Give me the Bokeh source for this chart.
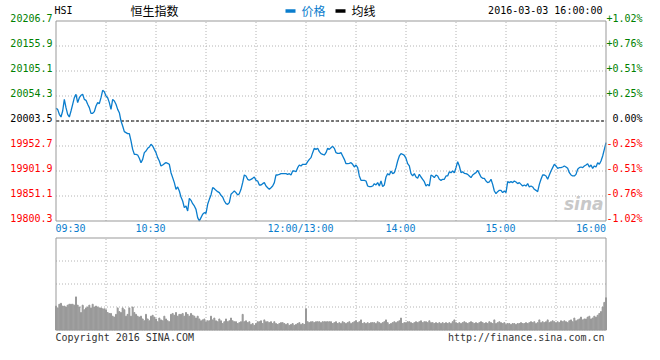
from bokeh.plotting import figure
from bokeh.models import Range1d, ColumnDataSource
from bokeh.layouts import column
from bokeh.core.properties import value
from bokeh.embed import file_html
from bokeh.resources import INLINE

# ---------------- data ----------------
base_price = 20003.5
price_ticks = [20206.7, 20155.9, 20105.1, 20054.3, 20003.5, 19952.7, 19901.9, 19851.1, 19800.3]
price_labels = ["20206.7", "20155.9", "20105.1", "20054.3", "20003.5", "19952.7", "19901.9", "19851.1", "19800.3"]
pct_labels = ["+1.02%", "+0.76%", "+0.51%", "+0.25%", "0.00%", "-0.25%", "-0.51%", "-0.76%", "-1.02%"]
tick_colors = ["#008000", "#008000", "#008000", "#008000", "#000000", "#ff0000", "#ff0000", "#ff0000", "#ff0000"]

time_tick_minutes = [0, 60, 150, 210, 270, 330]
time_tick_labels = ["09:30", "10:30", "12:00/13:00", "14:00", "15:00", "16:00"]
grid_minutes = [30, 60, 90, 120, 150, 180, 210, 240, 270, 300]
volume_max = 100
volume_grid = [25, 50, 75]

header_code = "HSI"
header_name = "恒生指数"
header_time = "2016-03-03 16:00:00"
legend_labels = ["价格", "均线"]
footer_left = "Copyright 2016 SINA.COM"
footer_right = "http://finance.sina.com.cn"

# HSI index, one value per trading minute (09:30-12:00, 13:00-16:00)
price = [
    20029.2, 20027.2, 20017.1, 20011.6, 20023.8, 20047.5, 20030.6, 20017.1, 20011.6, 20023.8,
    20037.4, 20050.9, 20057.7, 20040.8, 20050.9, 20055.7, 20057.7, 20047.5, 20045.5, 20037.4,
    20030.6, 20019.1, 20019.1, 20022.5, 20034.0, 20040.8, 20038.7, 20050.9, 20065.8, 20063.1,
    20054.3, 20050.9, 20040.8, 20027.2, 20047.5, 20044.1, 20037.4, 20027.2, 20020.4, 20003.5,
    19993.4, 19981.8, 19979.8, 19977.8, 19977.8, 19962.9, 19945.9, 19935.8, 19935.8, 19934.4,
    19927.7, 19918.8, 19925.6, 19939.2, 19942.6, 19948.0, 19950.7, 19956.1, 19952.7, 19945.9,
    19939.2, 19929.0, 19922.2, 19912.1, 19914.1, 19916.8, 19918.8, 19917.5, 19915.5, 19898.5,
    19888.4, 19878.2, 19864.7, 19869.4, 19861.3, 19849.1, 19841.0, 19827.4, 19830.8, 19820.6,
    19846.4, 19842.3, 19835.5, 19830.8, 19824.0, 19807.1, 19800.3, 19807.1, 19813.9, 19817.3,
    19815.9, 19834.2, 19844.3, 19853.2, 19868.1, 19866.0, 19862.6, 19859.9, 19857.9, 19852.5,
    19849.1, 19841.0, 19835.5, 19834.2, 19837.6, 19854.5, 19857.9, 19861.3, 19857.9, 19853.2,
    19855.9, 19864.7, 19878.2, 19893.8, 19891.8, 19885.0, 19883.0, 19885.0,
    19887.0, 19889.7, 19882.9, 19881.6, 19873.5, 19873.5, 19876.2, 19878.2, 19871.4, 19868.0,
    19864.7, 19868.0, 19871.4, 19878.2, 19893.8, 19893.8, 19895.1, 19896.5, 19896.5, 19896.5,
    19896.5, 19895.1, 19896.5, 19893.8, 19901.9, 19901.9, 19900.5, 19908.7, 19914.1, 19912.1,
    19915.5, 19915.5, 19915.5, 19920.9, 19925.6, 19929.0, 19939.2, 19948.0, 19945.9, 19948.0,
    19941.2, 19937.1, 19935.8, 19934.4, 19939.2, 19948.0, 19945.9, 19949.3, 19952.0, 19948.0,
    19939.2, 19937.8, 19937.8, 19939.2, 19932.4, 19925.6, 19916.8, 19916.8, 19917.5, 19918.8,
    19915.5, 19910.0, 19914.1, 19908.7, 19891.8, 19882.9, 19882.9, 19882.9, 19881.6, 19871.4,
    19870.1, 19870.1, 19871.4, 19876.2, 19873.5, 19878.2, 19871.4, 19881.6, 19870.1, 19873.5,
    19889.7, 19896.5, 19893.8, 19901.9, 19896.5, 19898.5, 19908.7, 19922.2, 19932.4, 19937.1,
    19935.8, 19933.7, 19927.6, 19916.8, 19912.1, 19896.5, 19891.8, 19896.5, 19889.7, 19887.0,
    19895.1, 19889.7, 19885.0, 19880.2, 19871.4, 19874.8, 19871.4, 19893.8, 19891.8, 19888.4,
    19893.8, 19891.8, 19885.0, 19882.9,
    19885.0, 19885.0, 19891.8, 19891.8, 19900.5, 19898.5, 19901.9, 19898.5, 19908.7, 19920.9,
    19912.1, 19898.5, 19900.5, 19897.2, 19896.5, 19895.1, 19891.8, 19888.4, 19893.8, 19896.5,
    19898.5, 19903.3, 19896.5, 19889.7, 19887.0, 19887.0, 19881.6, 19878.2, 19879.6, 19885.0,
    19874.8, 19861.3, 19855.9, 19859.9, 19862.6, 19862.6, 19857.9, 19861.3, 19857.9, 19880.2,
    19878.2, 19880.2, 19878.2, 19881.6, 19879.6, 19876.2, 19878.2, 19874.8, 19871.4, 19873.5,
    19871.4, 19876.2, 19869.4, 19871.4, 19869.4, 19864.7, 19862.6, 19859.9, 19874.8, 19885.0,
    19893.8, 19893.8, 19891.8, 19885.0, 19893.8, 19901.9, 19908.7, 19915.5, 19912.1, 19907.3,
    19908.7, 19908.7, 19910.0, 19912.1, 19910.0, 19907.3, 19898.5, 19893.8, 19891.8, 19891.8,
    19895.1, 19905.3, 19908.7, 19910.0, 19908.7, 19912.1, 19914.1, 19916.8, 19910.0, 19914.1,
    19907.3, 19912.1, 19910.0, 19918.8, 19915.5, 19922.2, 19932.4, 19945.9, 19959.5,
]

# traded volume per minute (relative units, panel top = 100)
volume = [
    26, 24, 28, 29, 26, 26, 25, 27, 28, 28,
    28, 27, 36, 27,
    25, 19, 27, 22, 24,
    25, 27, 24, 28, 25, 26, 25, 24, 24, 23,
    23, 22, 19, 18, 18, 15, 14, 17,
    24, 20, 19, 24, 22, 15, 17, 24, 15, 25, 19, 17,
    15, 14, 15, 12, 10, 17, 12, 10,
    15, 16, 14, 12, 9, 13, 11, 10, 15, 12, 10, 9,
    17, 18, 16, 19, 15, 17, 17, 18, 15, 19, 17, 15,
    18, 16, 15, 13, 15, 12, 10, 11, 12, 9, 10, 10,
    15, 11, 13, 10, 9, 12, 10, 7, 9, 12, 9, 10,
    13, 10, 9, 9, 7, 8, 9, 17, 9, 10, 8, 9,
    6, 7, 5, 7, 9, 9, 10, 7, 11, 9, 9, 8,
    9, 7, 9, 7, 6, 7, 8, 8, 7, 6, 7, 5,
    6, 7, 5, 6, 7, 8, 6, 7, 6, 23,
    9, 8, 9, 9, 8, 9, 9, 9, 8, 9, 9, 9, 9, 9,
    9, 7, 8, 9, 7, 8, 7, 9, 8,
    7, 8, 9, 7, 8, 9, 10, 8, 9, 11, 7, 8,
    7, 8, 7, 8, 8, 8, 7, 9, 8, 7, 8, 9,
    11, 8, 6, 7, 8, 9, 8, 9, 10, 13, 7, 8,
    8, 9, 9, 8, 7, 8, 9, 8, 9, 10, 8, 9,
    9, 8, 10, 8, 8, 7, 8, 7, 8, 7, 8, 7,
    8, 7, 8, 7, 9, 11, 8, 7, 8, 7, 8, 9,
    8, 7, 8, 9, 8, 7, 8, 7, 8, 9, 8, 7,
    8, 7, 9, 8, 7, 11, 7, 8, 9, 8, 7, 8,
    6, 7, 7, 6, 7, 7, 6, 7, 7, 8, 7, 7,
    8, 7, 8, 9, 8, 9, 7, 8, 11, 8, 9, 8,
    9, 11, 8, 9, 10, 9, 8, 9, 8, 10, 9, 10,
    9, 8, 10, 11, 9, 13, 10, 11, 12, 14, 11, 12,
    12, 14, 15, 12, 13, 15, 14, 16, 18, 20, 25, 30, 35,
]

minutes = list(range(len(price)))  # trading-minute index since 09:30
if len(price) != 331 or len(volume) != 331:
    raise SystemExit(f"length mismatch: price={len(price)} volume={len(volume)}")

# ---------------- layout (pixels inside each figure) ----------------
W = 644
H1, H2 = 236, 108
L, R = 55.5, 605.5          # chart box left/right
T1, B1 = 20.5, 220.5        # price box top/bottom (in p1)
T2, B2 = 1.5, 93.5          # volume box top/bottom (in p2)

BLUE = "#0a7dcd"
GRID = "#b4b4b4"
BORDER = "#999999"
MONO = "DejaVu Sans Mono"
CJK = "Noto Sans CJK SC"

t0, t1 = time_tick_minutes[0], time_tick_minutes[-1]
pmin, pmax = price_ticks[-1], price_ticks[0]
min_per_px = (t1 - t0) / (R - L)
price_per_px = (pmax - pmin) / (B1 - T1)
vol_per_px = volume_max / (B2 - T2)
x_range = Range1d(t0 - L * min_per_px, t1 + (W - R) * min_per_px)


def make_fig(h, yr):
    f = figure(width=W, height=h, x_range=x_range, y_range=yr,
               x_axis_location=None, y_axis_location=None, min_border=0,
               output_backend="svg", toolbar_location=None)
    f.outline_line_color = None
    f.grid.visible = False
    f.background_fill_color = "white"
    f.border_fill_color = "white"
    return f


# ---------------- price panel ----------------
p1 = make_fig(H1, Range1d(pmin - (H1 - B1) * price_per_px, pmax + T1 * price_per_px))

hgrid = price_ticks[1:-1]
p1.segment(x0=t0, x1=t1, y0=hgrid, y1=hgrid, line_color=GRID, line_dash="1 2", line_width=1)
p1.segment(x0=grid_minutes, x1=grid_minutes, y0=pmin, y1=pmax, line_color=GRID,
           line_dash="1 2", line_width=1)
p1.segment(x0=t0, x1=t1, y0=base_price, y1=base_price, line_color="black",
           line_dash="3 2", line_width=1)
p1.line(minutes, price, line_color=BLUE, line_width=1.3)
p1.quad(left=t0, right=t1, bottom=pmin, top=pmax, fill_color=None, line_color=BORDER, line_width=1)

tick_src = ColumnDataSource(dict(y=price_ticks, lab=price_labels, pct=pct_labels, col=tick_colors))
p1.text(x=t0, y="y", text="lab", source=tick_src, x_offset=-3.5, y_offset=-3,
        text_align="right", text_baseline="middle", text_font=value(MONO),
        text_font_size="10px", text_color="col")
p1.text(x=t1, y="y", text="pct", source=tick_src, x_offset=36.5, y_offset=-3,
        text_align="right", text_baseline="middle", text_font=value(MONO),
        text_font_size="10px", text_color="col")

n_t = len(time_tick_minutes)
t_align = ["left" if i == 0 else "right" if i == n_t - 1 else "center" for i in range(n_t)]
t_dx = [-0.5 if i == 0 else 0 if i == n_t - 1 else -5.5 for i in range(n_t)]
time_src = ColumnDataSource(dict(x=time_tick_minutes, lab=time_tick_labels, align=t_align, dx=t_dx))
p1.text(x="x", y=pmin, text="lab", source=time_src, x_offset="dx", y_offset=7.5,
        text_align="align", text_baseline="middle", text_font=value(MONO),
        text_font_size="10px", text_color=BLUE)

# header (texts sit above the box)
head_dy = -(T1 - 9.5)
p1.text(x=t0, y=pmax, text=[header_code], x_offset=-1.5, y_offset=head_dy,
        text_align="left", text_baseline="middle", text_font=value(MONO),
        text_font_size="10px", text_color="black")
p1.text(x=t0, y=pmax, text=[header_name], x_offset=74.5, y_offset=head_dy + 0.5,
        text_align="left", text_baseline="middle", text_font=value(CJK),
        text_font_size="12px", text_color="black")
p1.text(x=t1, y=pmax, text=[header_time], x_offset=-3.5, y_offset=head_dy,
        text_align="right", text_baseline="middle", text_font=value(MONO),
        text_font_size="10px", text_color="black")

# legend: price (blue) and average line (black)
key_px = [234.5, 284.5]
key_cols = [BLUE, "black"]
key_x = [t0 + k * min_per_px for k in key_px]
key_y = pmax + (T1 - 10.5) * price_per_px
p1.rect(x=key_x, y=key_y, width=10, height=3.5, width_units="screen", height_units="screen",
        fill_color=key_cols, line_color=None)
p1.text(x=key_x, y=key_y, text=legend_labels, x_offset=11, y_offset=-0.5,
        text_align="left", text_baseline="middle", text_font=value(CJK),
        text_font_size="12px", text_color=key_cols)

# watermark
p1.text(x=t1, y=pmin, text=["sina"], x_offset=-2.5, y_offset=-17,
        text_align="right", text_baseline="middle", text_font=value("DejaVu Sans"),
        text_font_style="bold italic", text_font_size="17px", text_color="#c8c8c8")

# ---------------- volume panel ----------------
p2 = make_fig(H2, Range1d(0 - (H2 - B2) * vol_per_px, volume_max + T2 * vol_per_px))
p2.segment(x0=t0, x1=t1, y0=volume_grid, y1=volume_grid, line_color=GRID, line_dash="1 2")
p2.segment(x0=grid_minutes, x1=grid_minutes, y0=0, y1=volume_max, line_color=GRID, line_dash="1 2")
p2.vbar(x=minutes, top=volume, width=0.6, color="#999999")
p2.quad(left=t0, right=t1, bottom=0, top=volume_max, fill_color=None, line_color=BORDER)

p2.text(x=t0, y=0, text=[footer_left], x_offset=-0.5, y_offset=7.5,
        text_align="left", text_baseline="middle", text_font=value(MONO),
        text_font_size="10px", text_color="#333333")
p2.text(x=t1, y=0, text=[footer_right], x_offset=-1.5, y_offset=7.5,
        text_align="right", text_baseline="middle", text_font=value(MONO),
        text_font_size="10px", text_color="#333333")

layout = column(p1, p2, spacing=0)
open("out.html", "w").write(file_html(layout, INLINE))
